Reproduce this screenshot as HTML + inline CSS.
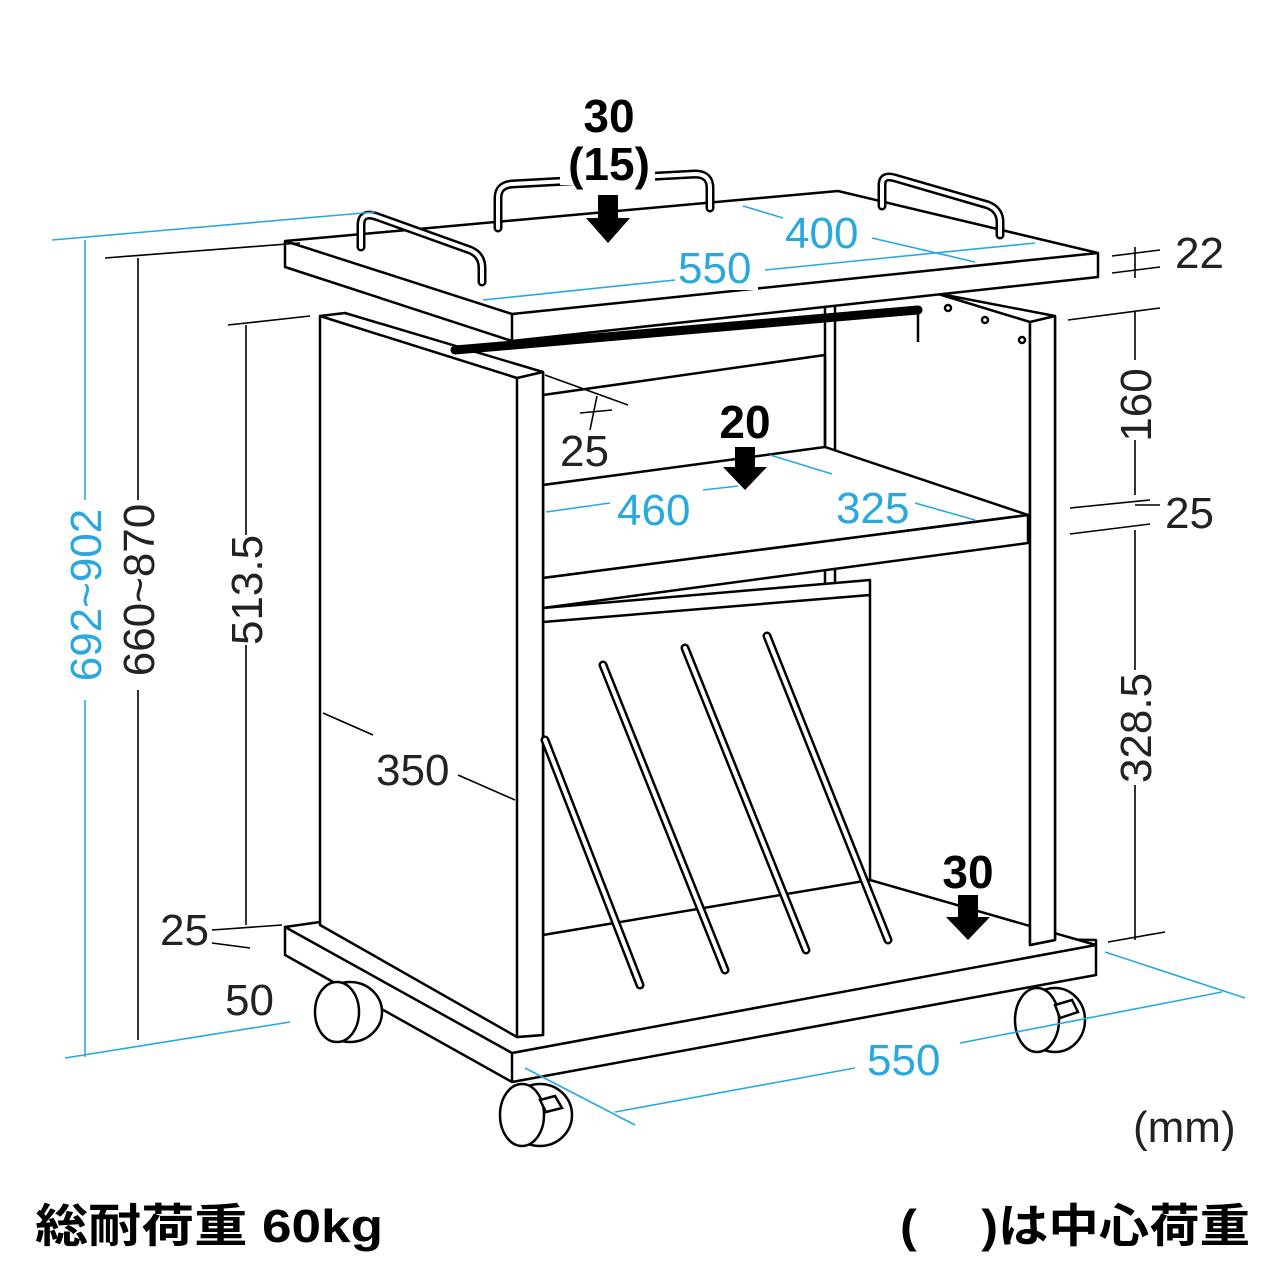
<!DOCTYPE html>
<html><head><meta charset="utf-8"><style>
html,body{margin:0;padding:0;background:#fff;}
svg{display:block}
.t{font-family:"Liberation Sans Narrow","Liberation Sans",sans-serif;}
</style></head><body>
<svg width="1280" height="1280" viewBox="0 0 1280 1280" xmlns="http://www.w3.org/2000/svg">
<g fill="#fff" stroke="#000" stroke-width="2.5" stroke-linejoin="round">
<polygon points="285,927 1096,940 1096,975 512,1082 285,955"/>
<polygon points="285,927 320,922 870,880 1096,945 512,1053"/>
<line x1="512" y1="1053" x2="512" y2="1082"/>
<polygon points="935,293 1055,316 1055,940 1030,945 1030,322"/>
<polygon points="1030,322 1055,316 1055,940 1030,945"/>
<polygon points="543,395 825,355 825,448 543,485"/>
<line x1="825" y1="305" x2="825" y2="590"/><line x1="835" y1="305" x2="835" y2="590"/>
<polygon points="543,485 825,447 1028,515 543,578"/>
<polygon points="543,578 1028,515 1028,543 543,608"/>
<polygon points="543,608 870,580 870,880 543,935"/>
<line x1="543" y1="622" x2="870" y2="595"/>
<polygon points="320,316 345,313 543,372 543,1035 517,1037 320,925"/>
<polygon points="517,378 543,372 543,1035 517,1037"/>
<line x1="320" y1="316" x2="517" y2="378"/>
<polygon points="285,241 838,191 1098,253 1098,277 512,341 285,267"/>
<line x1="285" y1="241" x2="512" y2="314"/><line x1="512" y1="314" x2="1098" y2="253"/><line x1="512" y1="314" x2="512" y2="341"/>
</g>
<g stroke="#000" stroke-width="9" stroke-linecap="round"><line x1="545" y1="740" x2="640" y2="985"/><line x1="603" y1="665" x2="725" y2="970"/><line x1="685" y1="648" x2="806" y2="950"/><line x1="767" y1="636" x2="888" y2="940"/><line x1="455" y1="350" x2="918" y2="310"/></g>
<g stroke="#fff" stroke-width="4" stroke-linecap="round"><line x1="545" y1="740" x2="640" y2="985"/><line x1="603" y1="665" x2="725" y2="970"/><line x1="685" y1="648" x2="806" y2="950"/><line x1="767" y1="636" x2="888" y2="940"/></g>
<g fill="none" stroke="#000" stroke-width="2.5">
<path d="M918,312 v30"/>
<circle cx="948" cy="308" r="3"/><circle cx="985" cy="320" r="3"/><circle cx="1022" cy="340" r="3"/>
</g>
<g fill="none" stroke-linecap="round" stroke-linejoin="round">
<g stroke="#000" stroke-width="9"><path d="M361,247 V225 Q361,212 375,216 L470,250 Q482,255 482,268 V282"/><path d="M498,228 V198 Q498,185 512,184 L695,174 Q710,174 710,188 V208"/><path d="M882,206 V185 Q882,174 895,178 L988,205 Q1000,210 1000,222 V235"/></g>
<g stroke="#fff" stroke-width="4"><path d="M361,247 V225 Q361,212 375,216 L470,250 Q482,255 482,268 V282"/><path d="M498,228 V198 Q498,185 512,184 L695,174 Q710,174 710,188 V208"/><path d="M882,206 V185 Q882,174 895,178 L988,205 Q1000,210 1000,222 V235"/></g>
</g>
<g fill="#fff" stroke="#000" stroke-width="2.5">
<ellipse cx="350" cy="1012" rx="32" ry="30"/><ellipse cx="337" cy="1012" rx="22" ry="30"/>
<ellipse cx="540" cy="1115" rx="32" ry="31"/><ellipse cx="522" cy="1115" rx="22" ry="31"/><polygon points="540,1100 555,1096 562,1108 546,1112"/>
<ellipse cx="1055" cy="1020" rx="30" ry="32"/><ellipse cx="1037" cy="1020" rx="22" ry="32"/><polygon points="1055,1005 1072,1000 1078,1012 1060,1018"/>
</g>
<g fill="none" stroke="#29a8e0" stroke-width="1.6">
<line x1="52" y1="240" x2="375" y2="212"/>
<line x1="65" y1="1058" x2="290" y2="1022"/>
<line x1="85" y1="240" x2="85" y2="500"/><line x1="85" y1="700" x2="85" y2="1057"/>
<line x1="483" y1="300" x2="675" y2="280"/><line x1="765" y1="270" x2="1035" y2="243"/>
<line x1="743" y1="206" x2="783" y2="218"/><line x1="872" y1="238" x2="975" y2="262"/>
<line x1="546" y1="512" x2="610" y2="503"/><line x1="703" y1="490" x2="738" y2="486"/>
<line x1="770" y1="455" x2="832" y2="474"/><line x1="915" y1="503" x2="975" y2="520"/>
<line x1="525" y1="1068" x2="635" y2="1125"/><line x1="1105" y1="952" x2="1245" y2="998"/>
<line x1="615" y1="1112" x2="855" y2="1068"/><line x1="960" y1="1043" x2="1222" y2="992"/>
</g>
<g fill="none" stroke="#000" stroke-width="1.6">
<line x1="105" y1="258" x2="300" y2="243"/><line x1="138" y1="258" x2="138" y2="500"/><line x1="138" y1="690" x2="138" y2="1040"/>
<line x1="228" y1="325" x2="310" y2="316"/><line x1="246" y1="325" x2="246" y2="535"/><line x1="246" y1="645" x2="246" y2="925"/>
<line x1="212" y1="930" x2="282" y2="925"/><line x1="212" y1="943" x2="250" y2="948"/>
<line x1="323" y1="713" x2="373" y2="735"/><line x1="458" y1="775" x2="515" y2="800"/>
<line x1="545" y1="375" x2="628" y2="405"/><line x1="580" y1="413" x2="612" y2="410"/><line x1="597" y1="396" x2="590" y2="430"/>
<line x1="1112" y1="256" x2="1160" y2="250"/><line x1="1112" y1="273" x2="1160" y2="267"/><line x1="1135" y1="247" x2="1135" y2="278"/>
<line x1="1068" y1="320" x2="1160" y2="308"/><line x1="1135" y1="312" x2="1135" y2="360"/><line x1="1135" y1="440" x2="1135" y2="495"/>
<line x1="1070" y1="508" x2="1150" y2="500"/><line x1="1070" y1="534" x2="1150" y2="524"/><line x1="1135" y1="505" x2="1160" y2="505"/>
<line x1="1135" y1="530" x2="1135" y2="670"/><line x1="1135" y1="785" x2="1135" y2="940"/><line x1="1108" y1="942" x2="1165" y2="932"/>
</g>
<g fill="#000"><polygon points="598,195 618,195 618,218 630,218 608,243 586,218 598,218"/><polygon points="735,447 755,447 755,467 767,467 745,490 723,467 735,467"/><polygon points="958,895 978,895 978,917 990,917 968,940 946,917 958,917"/></g>
<g fill="#fff"><rect x="560" y="135" width="95" height="50"/><rect x="678" y="245" width="80" height="45"/><rect x="785" y="210" width="80" height="45"/><rect x="612" y="488" width="86" height="42"/><rect x="832" y="486" width="82" height="42"/><rect x="862" y="1040" width="86" height="42"/><rect x="372" y="748" width="82" height="42"/><rect x="555" y="430" width="56" height="42"/></g>
<g class="t" font-size="44" fill="#29a8e0"><text x="678" y="283">550</text><text x="785" y="248">400</text><text x="617" y="525">460</text><text x="836" y="523">325</text><text x="867" y="1075">550</text>
<text transform="translate(101,595) rotate(-90)" text-anchor="middle">692~902</text></g>
<g class="t" font-size="44" fill="#222"><text transform="translate(154,590) rotate(-90)" text-anchor="middle">660~870</text><text transform="translate(262,590) rotate(-90)" text-anchor="middle">513.5</text>
<text transform="translate(1151,405) rotate(-90)" text-anchor="middle">160</text><text transform="translate(1151,728) rotate(-90)" text-anchor="middle">328.5</text>
<text x="560" y="466">25</text><text x="376" y="785">350</text><text x="160" y="945">25</text><text x="225" y="1015">50</text><text x="1175" y="268">22</text><text x="1165" y="528">25</text><text x="1133" y="1142">(mm)</text></g>
<g font-family="Liberation Sans,sans-serif" font-weight="bold" fill="#000" font-size="46" text-anchor="middle"><text x="609" y="132">30</text><text x="609" y="180">(15)</text><text x="745" y="438">20</text><text x="968" y="888">30</text></g>
<g font-family="Liberation Sans,'Noto Sans CJK JP',sans-serif" font-weight="bold" font-size="46" fill="#000"><text x="35" y="1242" textLength="348" lengthAdjust="spacingAndGlyphs">総耐荷重 60kg</text><text x="900" y="1242" textLength="350" lengthAdjust="spacingAndGlyphs">(　 )は中心荷重</text></g>
</svg>
</body></html>
